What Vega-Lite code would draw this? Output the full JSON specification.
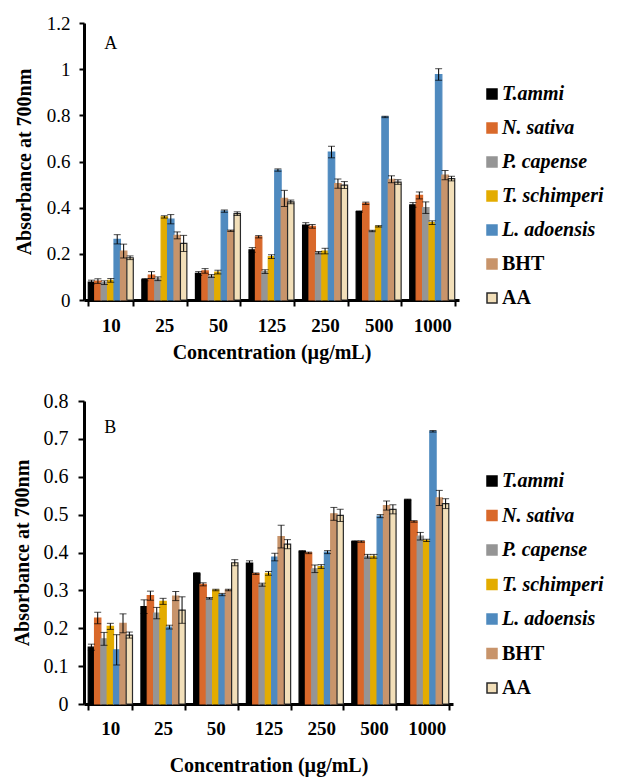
{
  "$schema": "https://vega.github.io/schema/vega-lite/v6.json",
  "padding": {"left": 12, "top": 14, "right": 2, "bottom": 5},
  "background": "white",
  "align": "none",
  "config": {
    "view": {"stroke": null},
    "font": "Liberation Serif",
    "axis": {"grid": false, "domainColor": "black", "domainWidth": 3, "tickColor": "black", "tickWidth": 2, "labelColor": "black", "titleColor": "black", "labelFont": "Liberation Serif", "titleFont": "Liberation Serif", "labelOverlap": false},
    "legend": {"labelFont": "Liberation Serif"},
    "text": {"font": "Liberation Serif"}
  },
  "datasets": {
    "a": [
      {"c": "10", "s": "T.ammi", "v": 0.078, "e": 0.008},
      {"c": "10", "s": "N. sativa", "v": 0.082, "e": 0.01},
      {"c": "10", "s": "P. capense", "v": 0.075, "e": 0.008},
      {"c": "10", "s": "T. schimperi", "v": 0.085, "e": 0.008},
      {"c": "10", "s": "L. adoensis", "v": 0.263, "e": 0.02},
      {"c": "10", "s": "BHT", "v": 0.212, "e": 0.03},
      {"c": "10", "s": "AA", "v": 0.183, "e": 0.008},
      {"c": "25", "s": "T.ammi", "v": 0.088, "e": 0.005},
      {"c": "25", "s": "N. sativa", "v": 0.108, "e": 0.015},
      {"c": "25", "s": "P. capense", "v": 0.092, "e": 0.008},
      {"c": "25", "s": "T. schimperi", "v": 0.36, "e": 0.005},
      {"c": "25", "s": "L. adoensis", "v": 0.35, "e": 0.02},
      {"c": "25", "s": "BHT", "v": 0.28, "e": 0.015},
      {"c": "25", "s": "AA", "v": 0.245, "e": 0.035},
      {"c": "50", "s": "T.ammi", "v": 0.115, "e": 0.008},
      {"c": "50", "s": "N. sativa", "v": 0.126, "e": 0.01},
      {"c": "50", "s": "P. capense", "v": 0.104, "e": 0.006},
      {"c": "50", "s": "T. schimperi", "v": 0.121, "e": 0.008},
      {"c": "50", "s": "L. adoensis", "v": 0.385, "e": 0.005},
      {"c": "50", "s": "BHT", "v": 0.3, "e": 0.003},
      {"c": "50", "s": "AA", "v": 0.374, "e": 0.008},
      {"c": "125", "s": "T.ammi", "v": 0.217, "e": 0.01},
      {"c": "125", "s": "N. sativa", "v": 0.274, "e": 0.005},
      {"c": "125", "s": "P. capense", "v": 0.123, "e": 0.008},
      {"c": "125", "s": "T. schimperi", "v": 0.188, "e": 0.008},
      {"c": "125", "s": "L. adoensis", "v": 0.563, "e": 0.005},
      {"c": "125", "s": "BHT", "v": 0.44, "e": 0.035},
      {"c": "125", "s": "AA", "v": 0.425, "e": 0.008},
      {"c": "250", "s": "T.ammi", "v": 0.325, "e": 0.01},
      {"c": "250", "s": "N. sativa", "v": 0.319, "e": 0.008},
      {"c": "250", "s": "P. capense", "v": 0.205, "e": 0.005},
      {"c": "250", "s": "T. schimperi", "v": 0.212, "e": 0.012},
      {"c": "250", "s": "L. adoensis", "v": 0.641, "e": 0.025},
      {"c": "250", "s": "BHT", "v": 0.504, "e": 0.02},
      {"c": "250", "s": "AA", "v": 0.498, "e": 0.015},
      {"c": "500", "s": "T.ammi", "v": 0.383, "e": 0.003},
      {"c": "500", "s": "N. sativa", "v": 0.419, "e": 0.005},
      {"c": "500", "s": "P. capense", "v": 0.299, "e": 0.003},
      {"c": "500", "s": "T. schimperi", "v": 0.319, "e": 0.003},
      {"c": "500", "s": "L. adoensis", "v": 0.793, "e": 0.003},
      {"c": "500", "s": "BHT", "v": 0.523, "e": 0.015},
      {"c": "500", "s": "AA", "v": 0.511, "e": 0.01},
      {"c": "1000", "s": "T.ammi", "v": 0.412, "e": 0.01},
      {"c": "1000", "s": "N. sativa", "v": 0.453, "e": 0.015},
      {"c": "1000", "s": "P. capense", "v": 0.4, "e": 0.025},
      {"c": "1000", "s": "T. schimperi", "v": 0.335, "e": 0.008},
      {"c": "1000", "s": "L. adoensis", "v": 0.977, "e": 0.025},
      {"c": "1000", "s": "BHT", "v": 0.541, "e": 0.02},
      {"c": "1000", "s": "AA", "v": 0.526, "e": 0.01}
    ],
    "b": [
      {"c": "10", "s": "T.ammi", "v": 0.15, "e": 0.008},
      {"c": "10", "s": "N. sativa", "v": 0.227, "e": 0.015},
      {"c": "10", "s": "P. capense", "v": 0.172, "e": 0.017},
      {"c": "10", "s": "T. schimperi", "v": 0.205, "e": 0.008},
      {"c": "10", "s": "L. adoensis", "v": 0.143, "e": 0.04},
      {"c": "10", "s": "BHT", "v": 0.213, "e": 0.025},
      {"c": "10", "s": "AA", "v": 0.182, "e": 0.008},
      {"c": "25", "s": "T.ammi", "v": 0.257, "e": 0.018},
      {"c": "25", "s": "N. sativa", "v": 0.286, "e": 0.012},
      {"c": "25", "s": "P. capense", "v": 0.24, "e": 0.015},
      {"c": "25", "s": "T. schimperi", "v": 0.271, "e": 0.008},
      {"c": "25", "s": "L. adoensis", "v": 0.203, "e": 0.005},
      {"c": "25", "s": "BHT", "v": 0.285, "e": 0.012},
      {"c": "25", "s": "AA", "v": 0.248, "e": 0.035},
      {"c": "50", "s": "T.ammi", "v": 0.344, "e": 0.003},
      {"c": "50", "s": "N. sativa", "v": 0.316, "e": 0.004},
      {"c": "50", "s": "P. capense", "v": 0.279, "e": 0.002},
      {"c": "50", "s": "T. schimperi", "v": 0.301, "e": 0.002},
      {"c": "50", "s": "L. adoensis", "v": 0.289, "e": 0.003},
      {"c": "50", "s": "BHT", "v": 0.301, "e": 0.002},
      {"c": "50", "s": "AA", "v": 0.373, "e": 0.008},
      {"c": "125", "s": "T.ammi", "v": 0.372, "e": 0.006},
      {"c": "125", "s": "N. sativa", "v": 0.344, "e": 0.002},
      {"c": "125", "s": "P. capense", "v": 0.315, "e": 0.004},
      {"c": "125", "s": "T. schimperi", "v": 0.345, "e": 0.005},
      {"c": "125", "s": "L. adoensis", "v": 0.388, "e": 0.01},
      {"c": "125", "s": "BHT", "v": 0.442, "e": 0.03},
      {"c": "125", "s": "AA", "v": 0.422, "e": 0.012},
      {"c": "250", "s": "T.ammi", "v": 0.403, "e": 0.002},
      {"c": "250", "s": "N. sativa", "v": 0.399, "e": 0.002},
      {"c": "250", "s": "P. capense", "v": 0.357, "e": 0.01},
      {"c": "250", "s": "T. schimperi", "v": 0.363, "e": 0.005},
      {"c": "250", "s": "L. adoensis", "v": 0.401, "e": 0.004},
      {"c": "250", "s": "BHT", "v": 0.502, "e": 0.017},
      {"c": "250", "s": "AA", "v": 0.498, "e": 0.016},
      {"c": "500", "s": "T.ammi", "v": 0.429, "e": 0.002},
      {"c": "500", "s": "N. sativa", "v": 0.429, "e": 0.002},
      {"c": "500", "s": "P. capense", "v": 0.39, "e": 0.005},
      {"c": "500", "s": "T. schimperi", "v": 0.39, "e": 0.005},
      {"c": "500", "s": "L. adoensis", "v": 0.496, "e": 0.004},
      {"c": "500", "s": "BHT", "v": 0.524, "e": 0.012},
      {"c": "500", "s": "AA", "v": 0.514, "e": 0.012},
      {"c": "1000", "s": "T.ammi", "v": 0.539, "e": 0.002},
      {"c": "1000", "s": "N. sativa", "v": 0.482, "e": 0.002},
      {"c": "1000", "s": "P. capense", "v": 0.443, "e": 0.01},
      {"c": "1000", "s": "T. schimperi", "v": 0.432, "e": 0.003},
      {"c": "1000", "s": "L. adoensis", "v": 0.72, "e": 0.002},
      {"c": "1000", "s": "BHT", "v": 0.544, "e": 0.02},
      {"c": "1000", "s": "AA", "v": 0.529, "e": 0.013}
    ]
  },
  "spacing": 29,
  "resolve": {"scale": {"y": "independent", "x": "independent", "color": "independent", "stroke": "independent", "xOffset": "independent"}, "legend": {"color": "independent"}},
  "vconcat": [
    {
      "width": 375,
      "height": 277,
      "layer": [
        {
          "data": {"name": "a"},
          "mark": {"type": "bar", "strokeWidth": 1.2},
          "encoding": {
            "x": {"field": "c", "type": "nominal", "sort": ["10", "25", "50", "125", "250", "500", "1000"], "scale": {"paddingInner": 0.16, "paddingOuter": 0.08}, "title": "Concentration (µg/mL)", "axis": {"labelAngle": 0, "tickBand": "extent", "tickSize": 6, "labelFontSize": 19, "labelFontWeight": "bold", "labelPadding": 10, "titleFontSize": 20, "titleFontWeight": "bold", "titlePadding": 7}},
            "xOffset": {"field": "s", "sort": ["T.ammi", "N. sativa", "P. capense", "T. schimperi", "L. adoensis", "BHT", "AA"], "scale": {"paddingInner": 0, "paddingOuter": 0}},
            "y": {"field": "v", "type": "quantitative", "scale": {"domain": [0, 1.2]}, "title": "Absorbance at 700nm", "axis": {"values": [0, 0.2, 0.4, 0.6, 0.8, 1, 1.2], "labelExpr": "format(datum.value, '~g')", "tickSize": 5, "labelFontSize": 19, "labelPadding": 9, "titleFontSize": 20, "titleFontWeight": "bold", "titlePadding": 12}},
            "color": {"field": "s", "type": "nominal", "sort": ["T.ammi", "N. sativa", "P. capense", "T. schimperi", "L. adoensis", "BHT", "AA"], "scale": {"domain": ["T.ammi", "N. sativa", "P. capense", "T. schimperi", "L. adoensis", "BHT", "AA"], "range": ["#000000", "#d9692b", "#959595", "#e3ac00", "#4f8abf", "#c8946b", "#f2dfb9"]},
              "legend": {"title": null, "orient": "none", "legendX": 398, "legendY": 61, "symbolType": "square", "symbolSize": 100, "symbolStrokeWidth": 0, "labelFontSize": 20, "labelFontWeight": "bold", "labelFont": "Liberation Serif", "labelColor": "black", "labelOffset": 0, "rowPadding": 14, "padding": 0,
                "encode": {"labels": {"update": {"fontStyle": {"signal": "datum.value === 'BHT' || datum.value === 'AA' ? 'normal' : 'italic'"}}}, "symbols": {"update": {"stroke": {"signal": "datum.value === 'AA' ? '#222222' : 'transparent'"}, "strokeWidth": {"value": 1.5}}}}}},
            "stroke": {"field": "s", "type": "nominal", "scale": {"domain": ["T.ammi", "N. sativa", "P. capense", "T. schimperi", "L. adoensis", "BHT", "AA"], "range": ["#000000", "#d9692b", "#959595", "#e3ac00", "#4f8abf", "#c8946b", "#2a2a2a"]}, "legend": null}
          }
        },
        {
          "data": {"name": "a"},
          "transform": [{"calculate": "datum.v - datum.e", "as": "lo"}, {"calculate": "datum.v + datum.e", "as": "hi"}],
          "mark": {"type": "rule", "color": "black", "strokeWidth": 1},
          "encoding": {
            "x": {"field": "c", "type": "nominal", "sort": ["10", "25", "50", "125", "250", "500", "1000"]},
            "xOffset": {"field": "s", "sort": ["T.ammi", "N. sativa", "P. capense", "T. schimperi", "L. adoensis", "BHT", "AA"]},
            "y": {"field": "lo", "type": "quantitative", "title": "Absorbance at 700nm", "axis": {"values": [0, 0.2, 0.4, 0.6, 0.8, 1, 1.2], "labelExpr": "format(datum.value, '~g')", "tickSize": 5, "labelFontSize": 19, "labelPadding": 9, "titleFontSize": 20, "titleFontWeight": "bold", "titlePadding": 12}},
            "y2": {"field": "hi"}
          }
        },
        {
          "data": {"name": "a"},
          "transform": [{"calculate": "datum.v - datum.e", "as": "lo"}],
          "mark": {"type": "tick", "color": "black", "thickness": 1, "size": 7},
          "encoding": {
            "x": {"field": "c", "type": "nominal", "sort": ["10", "25", "50", "125", "250", "500", "1000"]},
            "xOffset": {"field": "s", "sort": ["T.ammi", "N. sativa", "P. capense", "T. schimperi", "L. adoensis", "BHT", "AA"]},
            "y": {"field": "lo", "type": "quantitative", "title": "Absorbance at 700nm", "axis": {"values": [0, 0.2, 0.4, 0.6, 0.8, 1, 1.2], "labelExpr": "format(datum.value, '~g')", "tickSize": 5, "labelFontSize": 19, "labelPadding": 9, "titleFontSize": 20, "titleFontWeight": "bold", "titlePadding": 12}}
          }
        },
        {
          "data": {"name": "a"},
          "transform": [{"calculate": "datum.v + datum.e", "as": "hi"}],
          "mark": {"type": "tick", "color": "black", "thickness": 1, "size": 7},
          "encoding": {
            "x": {"field": "c", "type": "nominal", "sort": ["10", "25", "50", "125", "250", "500", "1000"]},
            "xOffset": {"field": "s", "sort": ["T.ammi", "N. sativa", "P. capense", "T. schimperi", "L. adoensis", "BHT", "AA"]},
            "y": {"field": "hi", "type": "quantitative", "title": "Absorbance at 700nm", "axis": {"values": [0, 0.2, 0.4, 0.6, 0.8, 1, 1.2], "labelExpr": "format(datum.value, '~g')", "tickSize": 5, "labelFontSize": 19, "labelPadding": 9, "titleFontSize": 20, "titleFontWeight": "bold", "titlePadding": 12}}
          }
        },
        {
          "data": {"values": [{"label": "A"}]},
          "mark": {"type": "text", "fontSize": 18, "font": "Liberation Serif", "color": "black", "align": "center", "baseline": "middle"},
          "encoding": {
            "x": {"datum": "10"},
            "y": {"datum": 1.11, "title": "Absorbance at 700nm", "axis": {"values": [0, 0.2, 0.4, 0.6, 0.8, 1, 1.2], "labelExpr": "format(datum.value, '~g')", "tickSize": 5, "labelFontSize": 19, "labelPadding": 9, "titleFontSize": 20, "titleFontWeight": "bold", "titlePadding": 12}},
            "text": {"field": "label"}
          }
        }
      ]
    },
    {
      "width": 369,
      "height": 303,
      "layer": [
        {
          "data": {"name": "b"},
          "mark": {"type": "bar", "strokeWidth": 1.2},
          "encoding": {
            "x": {"field": "c", "type": "nominal", "sort": ["10", "25", "50", "125", "250", "500", "1000"], "scale": {"paddingInner": 0.16, "paddingOuter": 0.08}, "title": "Concentration (µg/mL)", "axis": {"labelAngle": 0, "tickBand": "extent", "tickSize": 6, "labelFontSize": 19, "labelFontWeight": "bold", "labelPadding": 9, "titleFontSize": 20, "titleFontWeight": "bold", "titlePadding": 17}},
            "xOffset": {"field": "s", "sort": ["T.ammi", "N. sativa", "P. capense", "T. schimperi", "L. adoensis", "BHT", "AA"], "scale": {"paddingInner": 0, "paddingOuter": 0}},
            "y": {"field": "v", "type": "quantitative", "scale": {"domain": [0, 0.8]}, "title": "Absorbance at 700nm", "axis": {"values": [0, 0.1, 0.2, 0.3, 0.4, 0.5, 0.6, 0.7, 0.8], "labelExpr": "format(datum.value, '~g')", "tickSize": 6, "labelFontSize": 20, "labelPadding": 10, "titleFontSize": 20, "titleFontWeight": "bold", "titlePadding": 11}},
            "color": {"field": "s", "type": "nominal", "sort": ["T.ammi", "N. sativa", "P. capense", "T. schimperi", "L. adoensis", "BHT", "AA"], "scale": {"domain": ["T.ammi", "N. sativa", "P. capense", "T. schimperi", "L. adoensis", "BHT", "AA"], "range": ["#000000", "#d9692b", "#959595", "#e3ac00", "#4f8abf", "#c8946b", "#f2dfb9"]},
              "legend": {"title": null, "orient": "none", "legendX": 398, "legendY": 70, "symbolType": "square", "symbolSize": 100, "symbolStrokeWidth": 0, "labelFontSize": 20, "labelFontWeight": "bold", "labelFont": "Liberation Serif", "labelColor": "black", "labelOffset": 0, "rowPadding": 14.5, "padding": 0,
                "encode": {"labels": {"update": {"fontStyle": {"signal": "datum.value === 'BHT' || datum.value === 'AA' ? 'normal' : 'italic'"}}}, "symbols": {"update": {"stroke": {"signal": "datum.value === 'AA' ? '#222222' : 'transparent'"}, "strokeWidth": {"value": 1.5}}}}}},
            "stroke": {"field": "s", "type": "nominal", "scale": {"domain": ["T.ammi", "N. sativa", "P. capense", "T. schimperi", "L. adoensis", "BHT", "AA"], "range": ["#000000", "#d9692b", "#959595", "#e3ac00", "#4f8abf", "#c8946b", "#2a2a2a"]}, "legend": null}
          }
        },
        {
          "data": {"name": "b"},
          "transform": [{"calculate": "datum.v - datum.e", "as": "lo"}, {"calculate": "datum.v + datum.e", "as": "hi"}],
          "mark": {"type": "rule", "color": "black", "strokeWidth": 1},
          "encoding": {
            "x": {"field": "c", "type": "nominal", "sort": ["10", "25", "50", "125", "250", "500", "1000"]},
            "xOffset": {"field": "s", "sort": ["T.ammi", "N. sativa", "P. capense", "T. schimperi", "L. adoensis", "BHT", "AA"]},
            "y": {"field": "lo", "type": "quantitative", "title": "Absorbance at 700nm", "axis": {"values": [0, 0.1, 0.2, 0.3, 0.4, 0.5, 0.6, 0.7, 0.8], "labelExpr": "format(datum.value, '~g')", "tickSize": 6, "labelFontSize": 20, "labelPadding": 10, "titleFontSize": 20, "titleFontWeight": "bold", "titlePadding": 11}},
            "y2": {"field": "hi"}
          }
        },
        {
          "data": {"name": "b"},
          "transform": [{"calculate": "datum.v - datum.e", "as": "lo"}],
          "mark": {"type": "tick", "color": "black", "thickness": 1, "size": 7},
          "encoding": {
            "x": {"field": "c", "type": "nominal", "sort": ["10", "25", "50", "125", "250", "500", "1000"]},
            "xOffset": {"field": "s", "sort": ["T.ammi", "N. sativa", "P. capense", "T. schimperi", "L. adoensis", "BHT", "AA"]},
            "y": {"field": "lo", "type": "quantitative", "title": "Absorbance at 700nm", "axis": {"values": [0, 0.1, 0.2, 0.3, 0.4, 0.5, 0.6, 0.7, 0.8], "labelExpr": "format(datum.value, '~g')", "tickSize": 6, "labelFontSize": 20, "labelPadding": 10, "titleFontSize": 20, "titleFontWeight": "bold", "titlePadding": 11}}
          }
        },
        {
          "data": {"name": "b"},
          "transform": [{"calculate": "datum.v + datum.e", "as": "hi"}],
          "mark": {"type": "tick", "color": "black", "thickness": 1, "size": 7},
          "encoding": {
            "x": {"field": "c", "type": "nominal", "sort": ["10", "25", "50", "125", "250", "500", "1000"]},
            "xOffset": {"field": "s", "sort": ["T.ammi", "N. sativa", "P. capense", "T. schimperi", "L. adoensis", "BHT", "AA"]},
            "y": {"field": "hi", "type": "quantitative", "title": "Absorbance at 700nm", "axis": {"values": [0, 0.1, 0.2, 0.3, 0.4, 0.5, 0.6, 0.7, 0.8], "labelExpr": "format(datum.value, '~g')", "tickSize": 6, "labelFontSize": 20, "labelPadding": 10, "titleFontSize": 20, "titleFontWeight": "bold", "titlePadding": 11}}
          }
        },
        {
          "data": {"values": [{"label": "B"}]},
          "mark": {"type": "text", "fontSize": 18, "font": "Liberation Serif", "color": "black", "align": "center", "baseline": "middle"},
          "encoding": {
            "x": {"datum": "10"},
            "y": {"datum": 0.73, "title": "Absorbance at 700nm", "axis": {"values": [0, 0.1, 0.2, 0.3, 0.4, 0.5, 0.6, 0.7, 0.8], "labelExpr": "format(datum.value, '~g')", "tickSize": 6, "labelFontSize": 20, "labelPadding": 10, "titleFontSize": 20, "titleFontWeight": "bold", "titlePadding": 11}},
            "text": {"field": "label"}
          }
        }
      ]
    }
  ]
}
